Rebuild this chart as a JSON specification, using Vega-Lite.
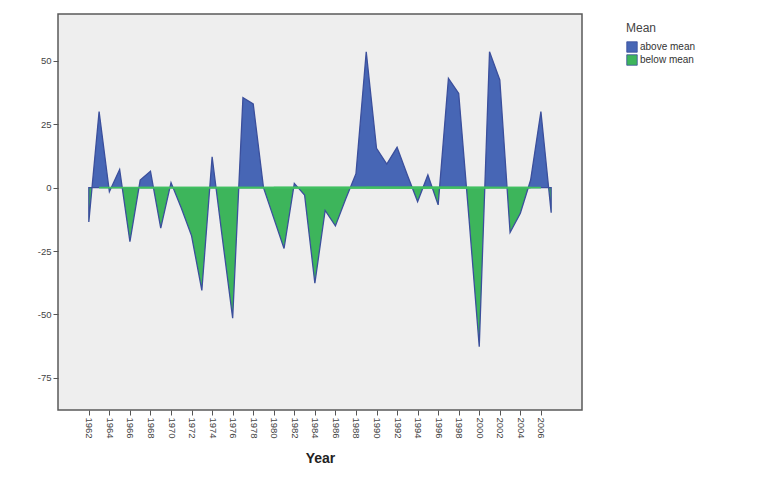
{
  "$schema": "https://vega.github.io/schema/vega-lite/v6.json",
  "width": 524,
  "height": 396,
  "autosize": {"type": "none"},
  "padding": {"left": 58, "top": 14, "right": 192, "bottom": 67},
  "background": "#ffffff",
  "config": {
    "locale": {"number": {"decimal": ".", "thousands": ",", "grouping": [3], "currency": ["$", ""], "minus": "-"}},
    "font": "Liberation Sans",
    "view": {"fill": "#eeeeee", "stroke": "#5a5a5a", "strokeWidth": 1.5},
    "axis": {"labelFont": "Liberation Sans", "labelColor": "#444444", "labelFontSize": 9.5, "tickColor": "#555555", "tickSize": 5, "grid": false, "domain": false}
  },
  "data": {"values": [
    {"Year": 1962, "value": -13.5, "Mean": "below mean"},
    {"Year": 1963, "value": 30, "Mean": "above mean"},
    {"Year": 1964, "value": -1.6, "Mean": "below mean"},
    {"Year": 1965, "value": 7.2, "Mean": "above mean"},
    {"Year": 1966, "value": -21.3, "Mean": "below mean"},
    {"Year": 1967, "value": 3, "Mean": "above mean"},
    {"Year": 1968, "value": 6.5, "Mean": "above mean"},
    {"Year": 1969, "value": -16, "Mean": "below mean"},
    {"Year": 1970, "value": 2, "Mean": "above mean"},
    {"Year": 1971, "value": -8, "Mean": "below mean"},
    {"Year": 1972, "value": -19, "Mean": "below mean"},
    {"Year": 1973, "value": -40.5, "Mean": "below mean"},
    {"Year": 1974, "value": 12.2, "Mean": "above mean"},
    {"Year": 1975, "value": -20, "Mean": "below mean"},
    {"Year": 1976, "value": -51.5, "Mean": "below mean"},
    {"Year": 1977, "value": 35.5, "Mean": "above mean"},
    {"Year": 1978, "value": 33, "Mean": "above mean"},
    {"Year": 1979, "value": 0, "Mean": "above mean"},
    {"Year": 1980, "value": -12, "Mean": "below mean"},
    {"Year": 1981, "value": -24, "Mean": "below mean"},
    {"Year": 1982, "value": 1.7, "Mean": "above mean"},
    {"Year": 1983, "value": -2.9, "Mean": "below mean"},
    {"Year": 1984, "value": -37.7, "Mean": "below mean"},
    {"Year": 1985, "value": -9, "Mean": "below mean"},
    {"Year": 1986, "value": -15.1, "Mean": "below mean"},
    {"Year": 1987, "value": -4.5, "Mean": "below mean"},
    {"Year": 1988, "value": 5.5, "Mean": "above mean"},
    {"Year": 1989, "value": 53.6, "Mean": "above mean"},
    {"Year": 1990, "value": 15.5, "Mean": "above mean"},
    {"Year": 1991, "value": 9.3, "Mean": "above mean"},
    {"Year": 1992, "value": 15.9, "Mean": "above mean"},
    {"Year": 1993, "value": 5, "Mean": "above mean"},
    {"Year": 1994, "value": -5.5, "Mean": "below mean"},
    {"Year": 1995, "value": 5, "Mean": "above mean"},
    {"Year": 1996, "value": -6.8, "Mean": "below mean"},
    {"Year": 1997, "value": 43.1, "Mean": "above mean"},
    {"Year": 1998, "value": 37.2, "Mean": "above mean"},
    {"Year": 1999, "value": -12, "Mean": "below mean"},
    {"Year": 2000, "value": -62.7, "Mean": "below mean"},
    {"Year": 2001, "value": 53.6, "Mean": "above mean"},
    {"Year": 2002, "value": 42.5, "Mean": "above mean"},
    {"Year": 2003, "value": -17.7, "Mean": "below mean"},
    {"Year": 2004, "value": -10.1, "Mean": "below mean"},
    {"Year": 2005, "value": 3, "Mean": "above mean"},
    {"Year": 2006, "value": 30, "Mean": "above mean"},
    {"Year": 2007, "value": -9.9, "Mean": "below mean"}
  ]},
  "encoding": {
    "x": {
      "field": "Year", "type": "quantitative",
      "scale": {"domain": [1959, 2010], "nice": false, "zero": false},
      "axis": {
        "values": [1962, 1964, 1966, 1968, 1970, 1972, 1974, 1976, 1978, 1980, 1982, 1984, 1986, 1988, 1990, 1992, 1994, 1996, 1998, 2000, 2002, 2004, 2006],
        "format": "d", "labelAngle": 90, "labelPadding": 2,
        "title": "Year", "titleFontSize": 14, "titleFontWeight": "bold", "titleColor": "#222222", "titlePadding": 13
      }
    },
    "y": {
      "field": "value", "type": "quantitative",
      "scale": {"domain": [-87.7, 68.5], "nice": false, "zero": false},
      "axis": {"values": [-75, -50, -25, 0, 25, 50], "title": null, "labelPadding": 2}
    }
  },
  "layer": [
    {
      "mark": {
        "type": "area", "interpolate": "linear",
        "fill": {"gradient": "linear", "x1": 0, "y1": 0, "x2": 0, "y2": 1,
          "stops": [
            {"offset": 0, "color": "#4766b5"},
            {"offset": 0.46088, "color": "#4766b5"},
            {"offset": 0.46088, "color": "#3db55b"},
            {"offset": 1, "color": "#3db55b"}
          ]},
        "stroke": "#3b4f9c", "strokeWidth": 1.3, "fillOpacity": 1
      },
      "encoding": {"y2": {"datum": 0}}
    },
    {
      "mark": {"type": "rule", "color": "#40c060", "strokeWidth": 1.6},
      "encoding": {
        "x": {"aggregate": "min", "field": "Year", "type": "quantitative"},
        "x2": {"aggregate": "max", "field": "Year"},
        "y": {"datum": 0, "type": "quantitative"}
      }
    },
    {
      "mark": {"type": "square", "opacity": 0},
      "encoding": {
        "color": {
          "field": "Mean", "type": "nominal",
          "scale": {"domain": ["above mean", "below mean"], "range": ["#4766b5", "#3db55b"]},
          "legend": {
            "title": "Mean", "orient": "right", "offset": 35,
            "symbolType": "square", "symbolSize": 110, "symbolOpacity": 1,
            "symbolStrokeColor": "#3b4f9c", "symbolStrokeWidth": 0.8,
            "labelFontSize": 10, "labelColor": "#333333", "labelOffset": 2,
            "titleFontSize": 12, "titleFontWeight": "normal", "titleColor": "#444444",
            "titleAnchor": "start", "titlePadding": 6, "rowPadding": -3, "padding": 9
          }
        }
      }
    }
  ]
}
